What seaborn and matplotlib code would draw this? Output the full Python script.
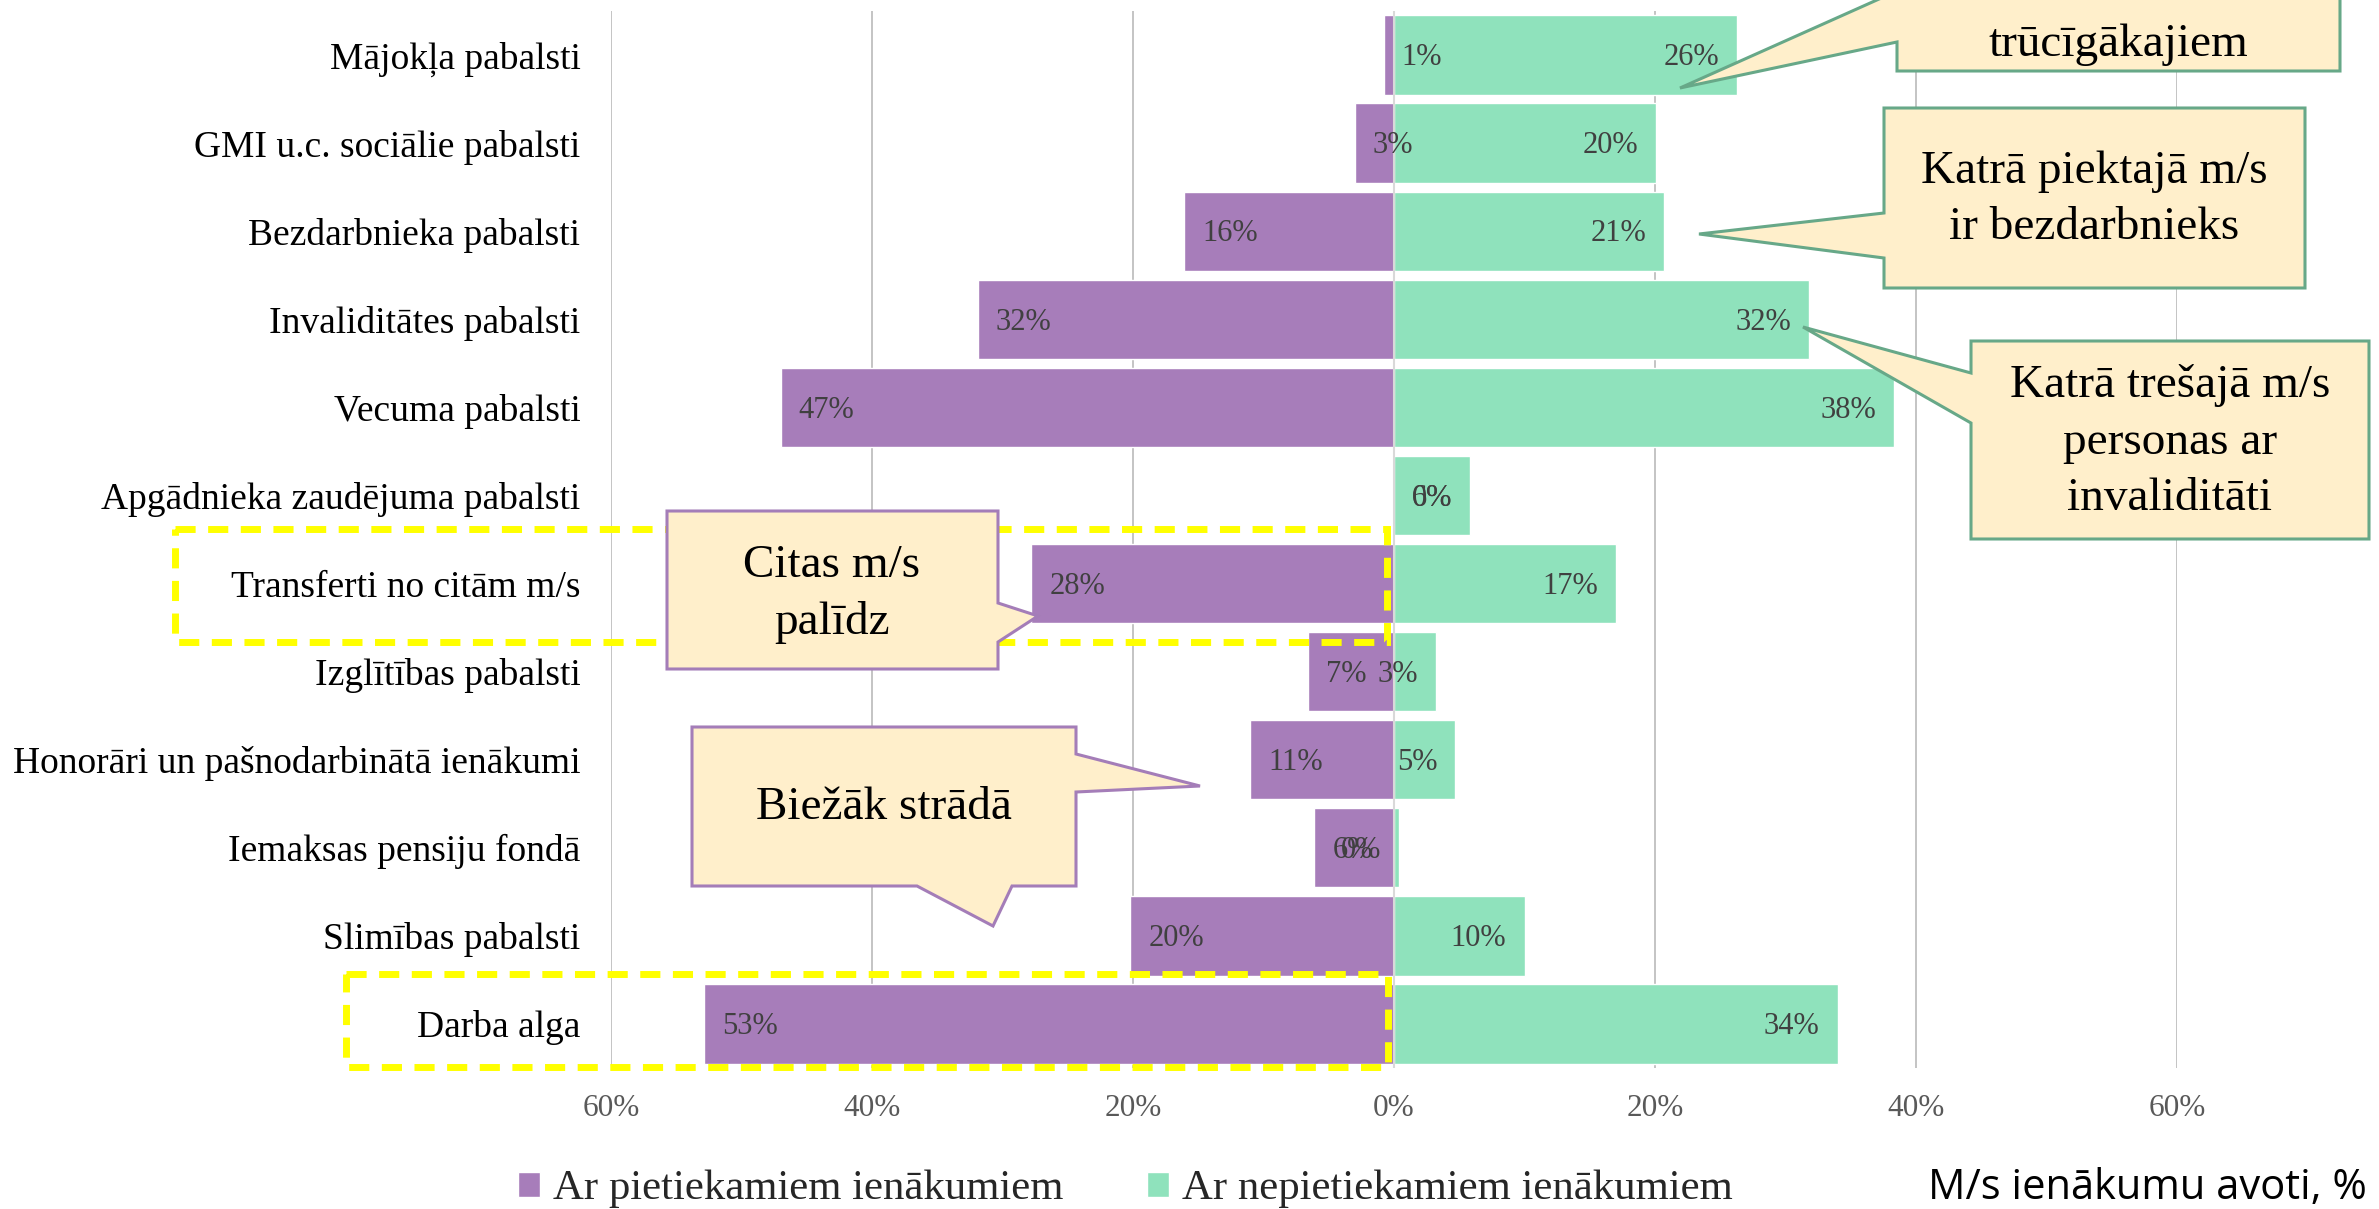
import numpy as np
import pandas as pd
import matplotlib
matplotlib.use("Agg")
import matplotlib.pyplot as plt
import seaborn as sns
from matplotlib.patches import Polygon
from matplotlib.ticker import FuncFormatter, FixedLocator

# ---------------- data ----------------
categories = [
    "Mājokļa pabalsti",
    "GMI u.c. sociālie pabalsti",
    "Bezdarbnieka pabalsti",
    "Invaliditātes pabalsti",
    "Vecuma pabalsti",
    "Apgādnieka zaudējuma pabalsti",
    "Transferti no citām m/s",
    "Izglītības pabalsti",
    "Honorāri un pašnodarbinātā ienākumi",
    "Iemaksas pensiju fondā",
    "Slimības pabalsti",
    "Darba alga",
]
sufficient = [0.8, 3.0, 16.1, 31.9, 47.0, 0.0, 27.8, 6.6, 11.0, 6.1, 20.2, 52.9]
insufficient = [26.3, 20.1, 20.7, 31.8, 38.3, 5.8, 17.0, 3.2, 4.7, 0.4, 10.0, 34.0]
series_names = ["Ar pietiekamiem ienākumiem", "Ar nepietiekamiem ienākumiem"]
x_ticks = [-60, -40, -20, 0, 20, 40, 60]
source_note = "M/s ienākumu avoti, %"

# ---------------- style ----------------
PURPLE = "#A77DBA"
GREEN = "#8FE2BC"
FILL = "#FFEFCB"
EDGE_GREEN = "#67A888"
EDGE_PURPLE = "#A47DB8"
YELLOW = "#FFFF00"

sns.set_style("white")
plt.rcParams["font.family"] = ["Liberation Serif", "DejaVu Serif"]

W, H = 2379, 1209
fig = plt.figure(figsize=(W / 100, H / 100), dpi=100)

ax_left, ax_right, ax_top, ax_bottom = 611, 2177, 11, 1068
ax = fig.add_axes([ax_left / W, (H - ax_bottom) / H,
                   (ax_right - ax_left) / W, (ax_bottom - ax_top) / H])

df = pd.DataFrame({
    "kategorija": categories * 2,
    "vertiba": [-v for v in sufficient] + list(insufficient),
    "grupa": [series_names[0]] * len(categories) + [series_names[1]] * len(categories),
})

sns.barplot(data=df, y="kategorija", x="vertiba", hue="grupa",
            hue_order=series_names, palette=[PURPLE, GREEN], dodge=False,
            saturation=1, width=0.9, errorbar=None, orient="h",
            edgecolor="white", linewidth=1, ax=ax)

ax.set_xlim(-60, 60)
ax.xaxis.set_major_locator(FixedLocator(x_ticks))
ax.xaxis.set_major_formatter(FuncFormatter(lambda x, p: f"{abs(x):.0f}%"))
ax.grid(axis="x", color="#BFBFBF", lw=1.3)
ax.grid(axis="y", visible=False)
ax.set_axisbelow(True)
for s in ax.spines.values():
    s.set_visible(False)
ax.axvline(0, color="#D9D9D9", lw=1.5, zorder=3)
ax.set_xlabel("")
ax.set_ylabel("")
ax.tick_params(axis="x", length=0, pad=19, labelsize=22.5, labelcolor="#595959")
ax.tick_params(axis="y", length=0, pad=22, labelsize=27, labelcolor="black")

# value labels
for i, v in enumerate(sufficient):
    ax.annotate(f"{v:.0f}%", xy=(-v, i), xytext=(13, -2), textcoords="offset points",
                ha="left", va="center", fontsize=22, color="#404040", zorder=6)
for i, v in enumerate(insufficient):
    ax.annotate(f"{v:.0f}%", xy=(v, i), xytext=(-13, -2), textcoords="offset points",
                ha="right", va="center", fontsize=22, color="#404040", zorder=6)

# legend
sns.move_legend(ax, loc="center left", bbox_to_anchor=(518 / W, 1 - 1189 / H),
                bbox_transform=fig.transFigure, ncol=2, frameon=False, title=None,
                fontsize=30.8, handlelength=0.52, handleheight=0.52,
                handletextpad=0.3, columnspacing=1.95, borderpad=0, borderaxespad=0)

# ---------------- overlay annotations (pixel coordinates) ----------------
ov = fig.add_axes([0, 0, 1, 1])
ov.set_xlim(0, W)
ov.set_ylim(H, 0)
ov.axis("off")
ov.set_zorder(10)

def dashed_box(x0, y0, x1, y1):
    ov.add_patch(Polygon([(x0, y0), (x1, y0), (x1, y1), (x0, y1)], closed=True,
                         fill=False, edgecolor=YELLOW, lw=5,
                         linestyle=(0, (2.9, 1.8)), joinstyle="miter", capstyle="butt"))

dashed_box(175, 529, 1387, 642)
dashed_box(346, 974, 1388, 1067)

def callout(verts, edge, text, tx, ty):
    ov.add_patch(Polygon(verts, closed=True, facecolor=FILL, edgecolor=edge,
                         lw=2.2, joinstyle="miter"))
    ov.text(tx, ty, text, ha="center", va="center", fontsize=34, color="black",
            linespacing=1.42, multialignment="center")

# top right (cut off at the top)
callout([(1897, -150), (2340, -150), (2340, 71), (1897, 71), (1897, 42),
         (1680, 88), (1897, -9)], EDGE_GREEN, "", 0, 0)
ov.text(2118, 56, "trūcīgākajiem", ha="center", va="baseline", fontsize=34, color="black")

callout([(1884, 108), (2305, 108), (2305, 288), (1884, 288), (1884, 258),
         (1699, 234), (1884, 213)], EDGE_GREEN,
        "Katrā piektajā m/s\nir bezdarbnieks", 2094, 200)

callout([(1971, 341), (2369, 341), (2369, 539), (1971, 539), (1971, 423),
         (1803, 327), (1971, 373)], EDGE_GREEN,
        "Katrā trešajā m/s\npersonas ar\ninvaliditāti", 2170, 442)

callout([(667, 511), (998, 511), (998, 603), (1038, 616), (998, 642),
         (998, 669), (667, 669)], EDGE_PURPLE,
        "Citas m/s\npalīdz", 832, 594)

callout([(692, 727), (1076, 727), (1076, 754), (1200, 786), (1076, 792),
         (1076, 886), (1012, 886), (993, 926), (917, 886), (692, 886)], EDGE_PURPLE,
        "Biežāk strādā", 884, 808)

ov.text(2367, 1199, source_note, ha="right", va="baseline", fontsize=30,
        color="black", family=["Open Sans", "DejaVu Sans"])

fig.savefig("out.png", dpi=100)
